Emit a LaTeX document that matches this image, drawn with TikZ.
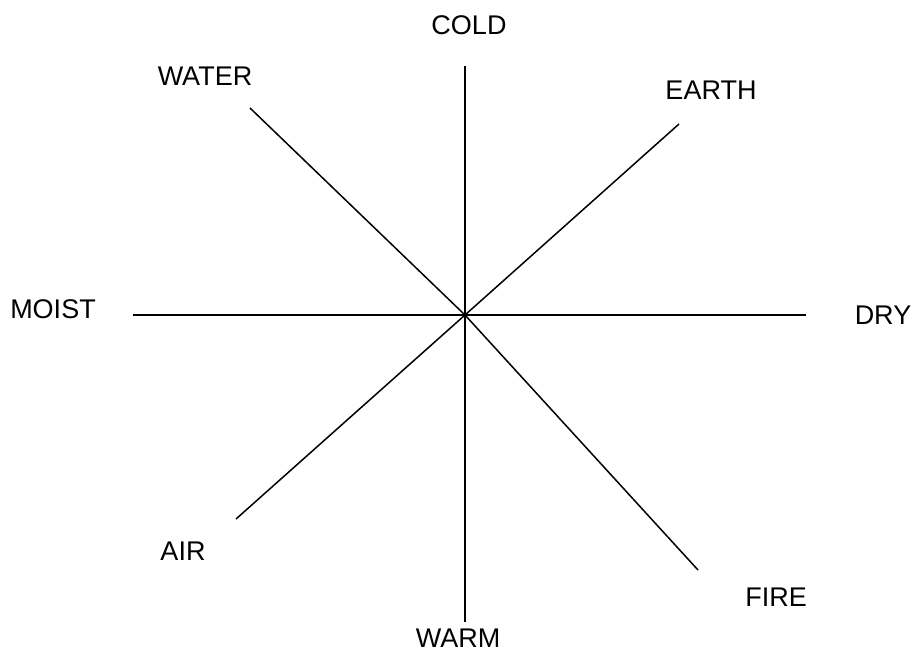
\documentclass[tikz,border=0pt]{standalone}
\usepackage{fontspec}
\setmainfont{Liberation Sans}
\begin{document}
\begin{tikzpicture}[x=1pt,y=-1pt,
  lbl/.style={font=\fontsize{27}{32}\selectfont, inner sep=0pt, anchor=center},
  axis/.style={line width=1.5pt, black}]
\useasboundingbox (0,0) rectangle (916,657);
\coordinate (c) at (465,315);
\coordinate (top) at (465,66);
\coordinate (bot) at (465,622);
\coordinate (lft) at (133,315);
\coordinate (rgt) at (806,315);
\coordinate (nw) at (250,108);
\coordinate (se) at (698,570);
\coordinate (ne) at (679,124);
\coordinate (sw) at (236,519);
\draw[axis] (top) -- (c) -- (bot);
\draw[axis] (lft) -- (c) -- (rgt);
\draw[axis] (nw) -- (c) -- (se);
\draw[axis] (ne) -- (c) -- (sw);
\node[lbl] (cold) at (469,25) {COLD};
\node[lbl] (water) at (205,76) {WATER};
\node[lbl] (earth) at (711,90) {EARTH};
\node[lbl] (moist) at (53,309) {MOIST};
\node[lbl] (dry) at (883,315) {DRY};
\node[lbl] (air) at (183,551) {AIR};
\node[lbl] (fire) at (776,597) {FIRE};
\node[lbl] (warm) at (458,638) {WARM};
\end{tikzpicture}
\end{document}
